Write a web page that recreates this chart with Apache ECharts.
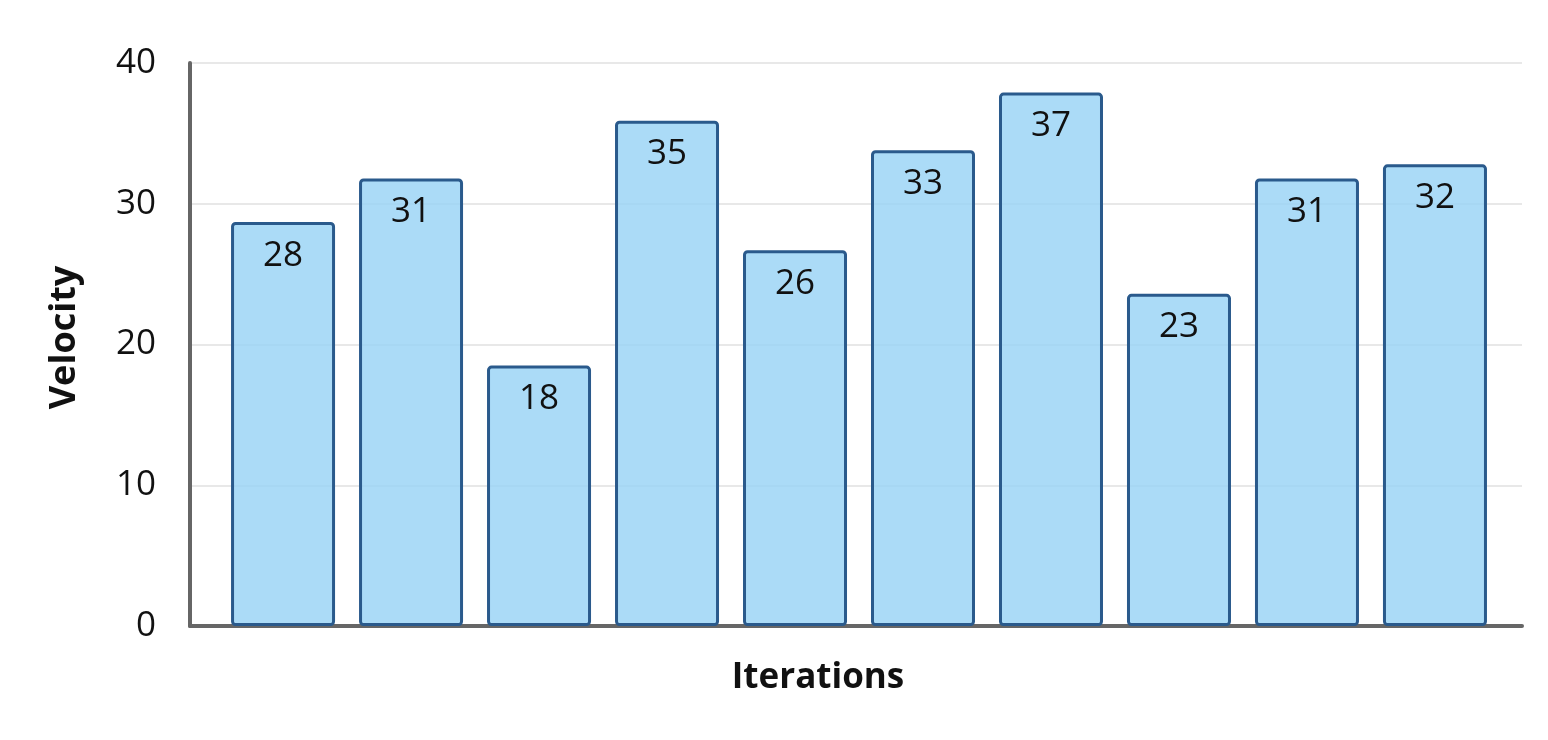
<!doctype html>
<html>
<head>
	<meta charset="utf-8">
	<title>Velocity</title>
	<style>
		html, body { margin: 0; padding: 0; background: #fff; }
		#main { width: 1548px; height: 740px; }
	</style>
</head>
<body>
<div id="main"></div>
<script src="https://cdn.jsdelivr.net/npm/echarts@6/dist/echarts.min.js"></script>
<script>
	// data
	var iterations = ['1', '2', '3', '4', '5', '6', '7', '8', '9', '10']
	var velocity = [28.7, 31.8, 18.5, 35.9, 26.7, 33.8, 37.9, 23.6, 31.8, 32.8]
	var yTicks = [0, 10, 20, 30, 40]

	var font = '"Open Sans", "Noto Sans", sans-serif'
	var myChart = echarts.init(document.getElementById('main'))

	// bars sit on a value axis so the outer padding matches the picture
	var points = []
	for (var i = 0; i < iterations.length; i++) {
		points.push({ name: iterations[i], value: [i, velocity[i]] })
	}

	var option = {
		animation: false,
		grid: { left: 190, right: 26, top: 63, bottom: 114 },
		xAxis: {
			type: 'value',
			min: -0.727,
			max: 9.68,
			name: 'Iterations',
			nameLocation: 'middle',
			nameGap: 35,
			nameTextStyle: { fontFamily: font, fontSize: 35, fontWeight: 'bold', color: '#111', padding: [0, 76, 0, 0] },
			axisLine: { show: true, lineStyle: { color: '#666', width: 4, cap: 'round' } },
			axisTick: { show: false },
			axisLabel: { show: false },
			splitLine: { show: false }
		},
		yAxis: {
			type: 'value',
			min: yTicks[0],
			max: yTicks[yTicks.length - 1],
			interval: 10,
			name: 'Velocity',
			nameLocation: 'middle',
			nameGap: 107,
			nameRotate: 90,
			nameTextStyle: { fontFamily: font, fontSize: 36, fontWeight: 'bold', color: '#111', padding: [0, 0, 0, 14] },
			axisLine: { show: true, onZero: false, lineStyle: { color: '#666', width: 4, cap: 'round' } },
			axisTick: { show: false },
			axisLabel: { margin: 34, fontFamily: font, fontSize: 35, color: '#111' },
			splitLine: { show: true, lineStyle: { color: '#e8e8e8', width: 2 } }
		},
		series: [{
			type: 'bar',
			barWidth: 104,
			data: points,
			itemStyle: {
				color: 'rgba(150, 210, 245, 0.8)',
				borderColor: '#2a5a8c',
				borderWidth: 3,
				borderRadius: 3
			},
			label: {
				show: true,
				position: 'insideTop',
				distance: 16,
				fontFamily: font,
				fontSize: 35,
				color: '#111',
				formatter: function (p) { return Math.floor(p.value[1]) }
			}
		}]
	}
	myChart.setOption(option)
</script>
</body>
</html>
